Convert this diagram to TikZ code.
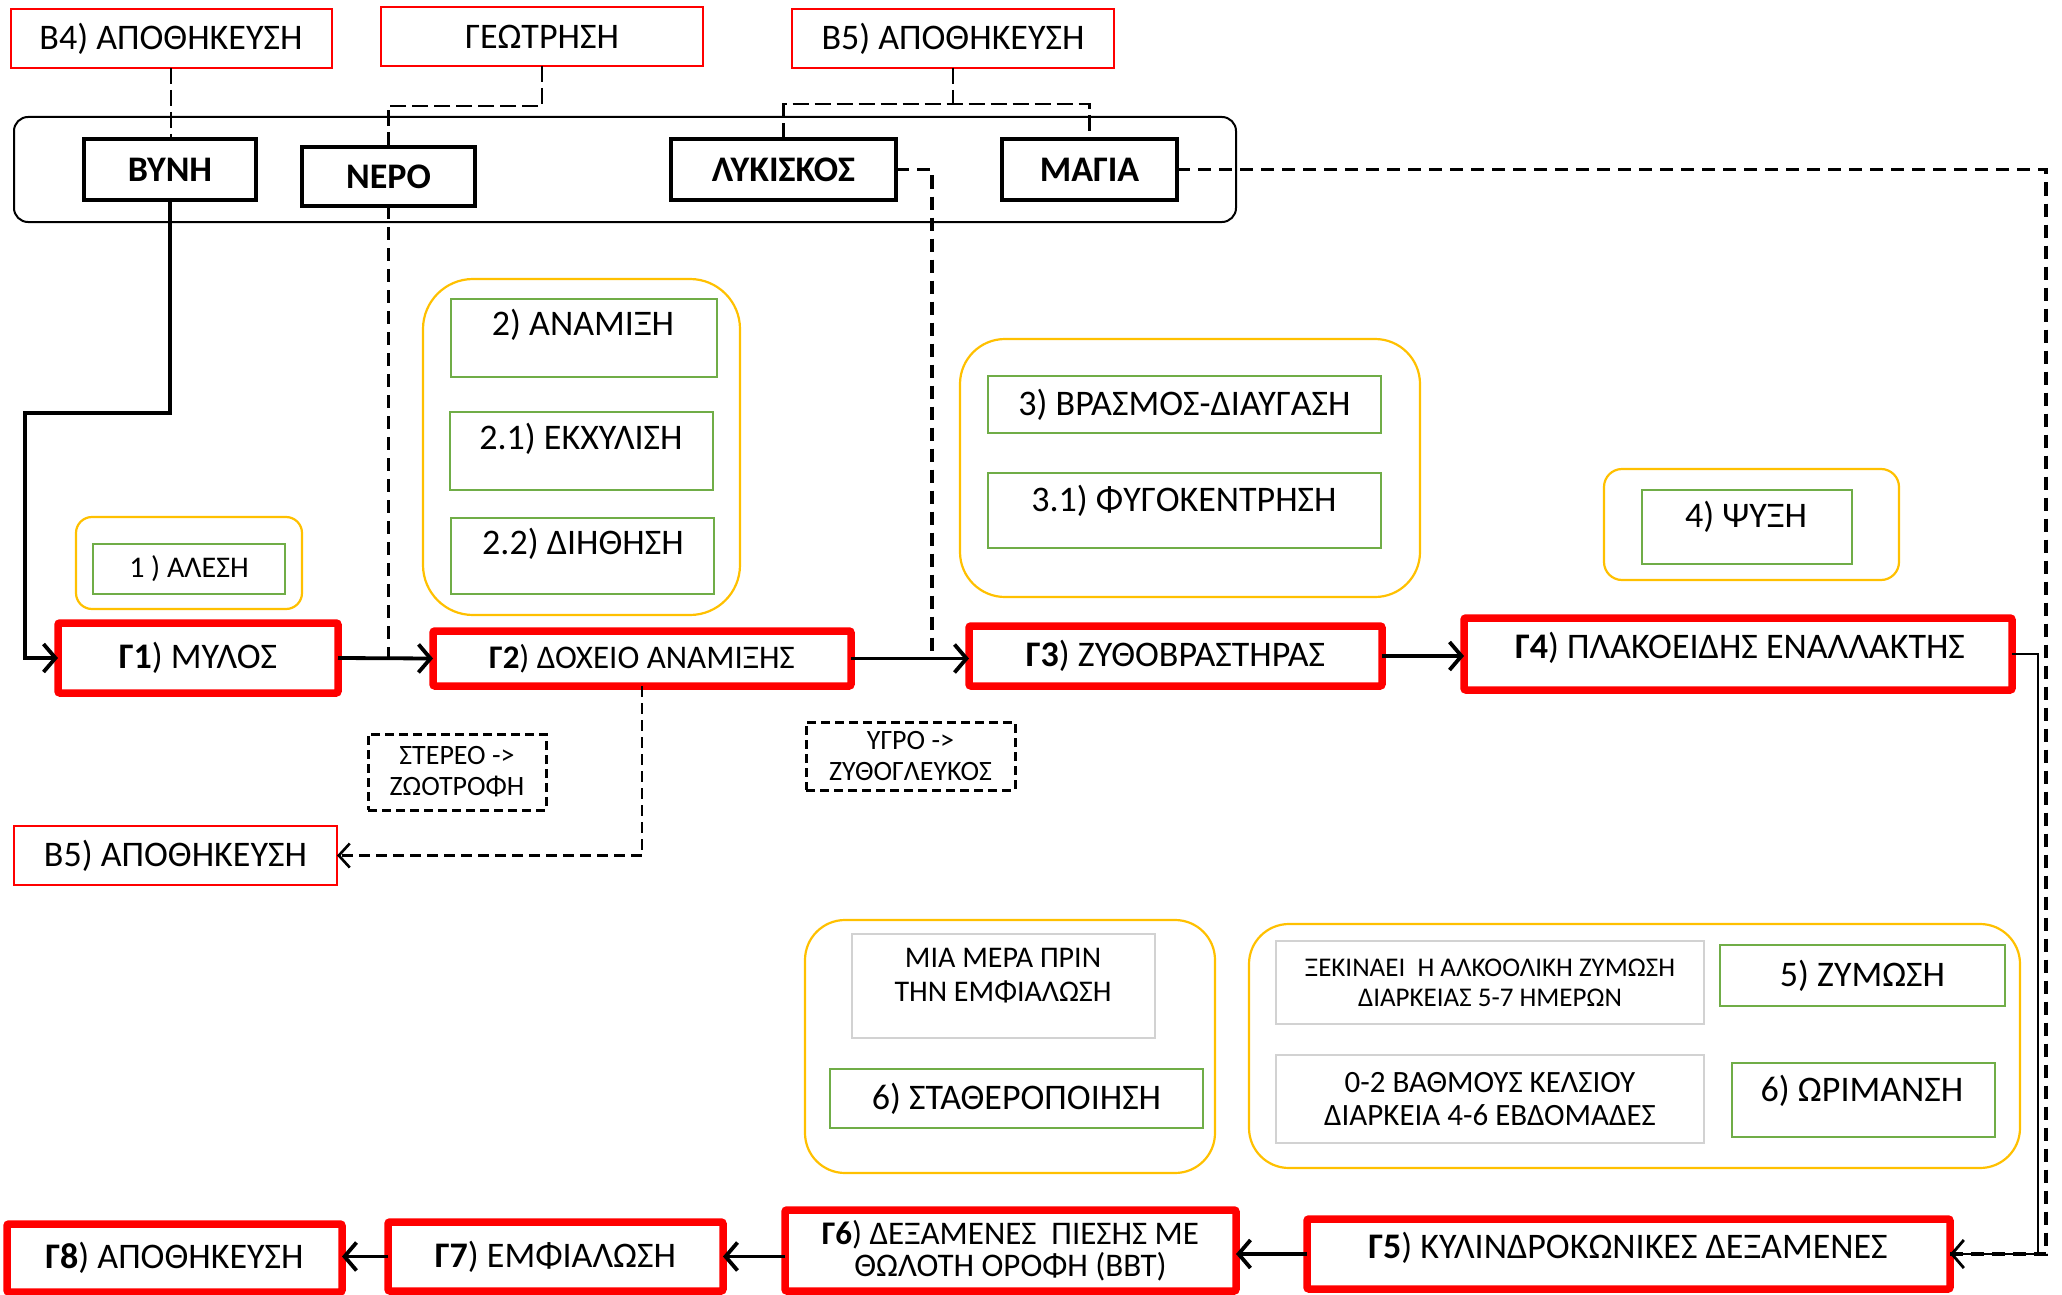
\documentclass[tikz,border=0pt]{standalone}
\usepackage{fontspec}
\setmainfont{Carlito}
\usetikzlibrary{arrows.meta}
\definecolor{myred}{RGB}{255,0,0}
\definecolor{mygreen}{RGB}{112,173,71}
\definecolor{myorange}{RGB}{255,192,0}
\definecolor{mygray}{RGB}{210,210,210}
\begin{document}
\begin{tikzpicture}[x=1pt,y=-1pt,
  every node/.style={inner sep=0pt,outer sep=0pt},
  fs/.style={font=\fontsize{#1}{#1}\selectfont},
  redthin/.style={draw=myred,line width=2pt,fs=36},
  blackbox/.style={draw=black,line width=4.5pt,font=\bfseries\fontsize{36}{40}\selectfont},
  redbox/.style={draw=myred,line width=7.5pt,rounded corners=2pt,fs=36},
  greenbox/.style={draw=mygreen,line width=2.5pt,fs=36},
  graybox/.style={draw=mygray,line width=2.5pt},
  grp/.style={draw=myorange,line width=2.2pt},
  notebox/.style={draw=black,line width=3pt,dash pattern=on 9pt off 5pt,align=center,font=\fontsize{28}{31}\selectfont},
  txt/.style={fs=36},
  flow/.style={draw=black,line width=3.8pt,-{Straight Barb[length=12pt,width=28pt]}},
  dashthick/.style={draw=black,line width=3.8pt,dash pattern=on 13pt off 8pt},
  dashthin/.style={draw=black,line width=2.6pt,dash pattern=on 11pt off 6pt},
  topdash/.style={draw=black,line width=2.6pt,dash pattern=on 16pt off 6pt}
]
\useasboundingbox (0,0) rectangle (2062,1295);
% ---------- top row ----------
\node[redthin,minimum width=321pt,minimum height=59pt] (b4) at (171,38.5) {Β4) ΑΠΟΘΗΚΕΥΣΗ};
\node[redthin,minimum width=322pt,minimum height=59pt] (geo) at (542,36.5) {ΓΕΩΤΡΗΣΗ};
\node[redthin,minimum width=322pt,minimum height=59pt] (b5t) at (953,38.5) {Β5) ΑΠΟΘΗΚΕΥΣΗ};
\node[draw=black,line width=2pt,rounded corners=14pt,minimum width=1222pt,minimum height=105pt] (big) at (625,169.5) {};
\node[blackbox,minimum width=172pt,minimum height=61pt] (bynh) at (170,169.5) {ΒΥΝΗ};
\node[blackbox,minimum width=173pt,minimum height=59pt] (nero) at (388.5,176.5) {ΝΕΡΟ};
\node[blackbox,minimum width=225pt,minimum height=61pt] (lyk) at (783.5,169.5) {ΛΥΚΙΣΚΟΣ};
\node[blackbox,minimum width=175pt,minimum height=61pt] (mag) at (1089.5,169.5) {ΜΑΓΙΑ};
% ---------- process groups ----------
\node[grp,rounded corners=16pt,minimum width=226pt,minimum height=92pt] (grp1) at (189,563) {};
\node[greenbox,minimum width=192pt,minimum height=50pt,fs=30] (gr1) at (189,569) {1 ) ΑΛΕΣΗ};
\node[grp,rounded corners=50pt,minimum width=317pt,minimum height=336pt] (grp2) at (581.5,447) {};
\node[greenbox,minimum width=266pt,minimum height=78pt] (gr2a) at (584,338) {};
\node[txt] (t2a) at (583,325) {2) ΑΝΑΜΙΞΗ};
\node[greenbox,minimum width=263pt,minimum height=78pt] (gr2b) at (581.5,451) {};
\node[txt] (t2b) at (581,439) {2.1) ΕΚΧΥΛΙΣΗ};
\node[greenbox,minimum width=263pt,minimum height=76pt] (gr2c) at (582.5,556) {};
\node[txt] (t2c) at (583,544) {2.2) ΔΙΗΘΗΣΗ};
\node[grp,rounded corners=45pt,minimum width=460pt,minimum height=258pt] (grp3) at (1190,468) {};
\node[greenbox,minimum width=393pt,minimum height=57pt] (gr3a) at (1184.5,404.5) {3) ΒΡΑΣΜΟΣ-ΔΙΑΥΓΑΣΗ};
\node[greenbox,minimum width=393pt,minimum height=75pt] (gr3b) at (1184.5,510.5) {};
\node[txt] (t3b) at (1184,501) {3.1) ΦΥΓΟΚΕΝΤΡΗΣΗ};
\node[grp,rounded corners=18pt,minimum width=295pt,minimum height=111pt] (grp4) at (1751.5,524.5) {};
\node[greenbox,minimum width=210pt,minimum height=74pt] (gr4) at (1747,527) {};
\node[txt] (t4) at (1746,517) {4) ΨΥΞΗ};
% ---------- main equipment row ----------
\node[redbox,minimum width=280pt,minimum height=70pt] (g1) at (198,658) {\textbf{Γ1}) ΜΥΛΟΣ};
\node[redbox,minimum width=418pt,minimum height=55pt,fs=33] (g2) at (642,658.5) {\textbf{Γ2}) ΔΟΧΕΙΟ ΑΝΑΜΙΞΗΣ};
\node[redbox,minimum width=413pt,minimum height=60pt] (g3) at (1175.5,656) {\textbf{Γ3}) ΖΥΘΟΒΡΑΣΤΗΡΑΣ};
\node[redbox,minimum width=548pt,minimum height=72pt] (g4) at (1738,654) {};
\node[txt] (t4g) at (1740,648) {\textbf{Γ4}) ΠΛΑΚΟΕΙΔΗΣ ΕΝΑΛΛΑΚΤΗΣ};
% ---------- notes ----------
\node[notebox,minimum width=178pt,minimum height=76pt] (note1) at (457,772) {ΣΤΕΡΕΟ -\kern0pt>\\ΖΩΟΤΡΟΦΗ};
\node[notebox,minimum width=209pt,minimum height=68pt] (note2) at (910.5,756) {ΥΓΡΟ -\kern0pt>\\ΖΥΘΟΓΛΕΥΚΟΣ};
\node[redthin,minimum width=323pt,minimum height=59pt] (b5l) at (175.5,855.5) {Β5) ΑΠΟΘΗΚΕΥΣΗ};
% ---------- lower groups ----------
\node[grp,rounded corners=40pt,minimum width=410pt,minimum height=253pt] (grp6) at (1010,1046.5) {};
\node[graybox,minimum width=303pt,minimum height=104pt] (gray6) at (1003.5,986) {};
\node[align=center,font=\fontsize{30}{34}\selectfont] (tg6) at (1003,976) {ΜΙΑ ΜΕΡΑ ΠΡΙΝ\\ΤΗΝ ΕΜΦΙΑΛΩΣΗ};
\node[greenbox,minimum width=373pt,minimum height=59pt] (gr6) at (1016.5,1098.5) {6) ΣΤΑΘΕΡΟΠΟΙΗΣΗ};
\node[grp,rounded corners=40pt,minimum width=771pt,minimum height=244pt] (grp5) at (1634.5,1046) {};
\node[graybox,minimum width=428pt,minimum height=83pt,align=center,font=\fontsize{27}{30}\selectfont] (gray5a) at (1490,982.5) {ΞΕΚΙΝΑΕΙ \ Η ΑΛΚΟΟΛΙΚΗ ΖΥΜΩΣΗ\\ΔΙΑΡΚΕΙΑΣ 5-7 ΗΜΕΡΩΝ};
\node[graybox,minimum width=428pt,minimum height=88pt,align=center,font=\fontsize{31}{33}\selectfont] (gray5b) at (1490,1099) {0-2 ΒΑΘΜΟΥΣ ΚΕΛΣΙΟΥ\\ΔΙΑΡΚΕΙΑ 4-6 ΕΒΔΟΜΑΔΕΣ};
\node[greenbox,minimum width=285pt,minimum height=61pt] (gr5) at (1862.5,975.5) {5) ΖΥΜΩΣΗ};
\node[greenbox,minimum width=263pt,minimum height=74pt] (gr6b) at (1863.5,1100) {};
\node[txt] (t6b) at (1862,1091) {6) ΩΡΙΜΑΝΣΗ};
% ---------- bottom row ----------
\node[redbox,minimum width=643pt,minimum height=70pt] (g5) at (1628.5,1254) {};
\node[txt] (t5g) at (1628,1248) {\textbf{Γ5}) ΚΥΛΙΝΔΡΟΚΩΝΙΚΕΣ ΔΕΞΑΜΕΝΕΣ};
\node[redbox,minimum width=451pt,minimum height=81pt,align=center,font=\fontsize{33}{32}\selectfont] (g6) at (1010.5,1250.5) {\textbf{Γ6}) ΔΕΞΑΜΕΝΕΣ \ ΠΙΕΣΗΣ ΜΕ\\ΘΩΛΟΤΗ ΟΡΟΦΗ (BBT)};
\node[redbox,minimum width=335pt,minimum height=69pt] (g7) at (555.5,1256.5) {\textbf{Γ7}) ΕΜΦΙΑΛΩΣΗ};
\node[redbox,minimum width=335pt,minimum height=68pt] (g8) at (174.5,1258) {\textbf{Γ8}) ΑΠΟΘΗΚΕΥΣΗ};
% ---------- helper coordinates ----------
\coordinate (geoj) at (542,106);
\coordinate (b5j) at (953,104);
\coordinate (bynhj) at (25,413);
\coordinate (lykc) at (932,656);
\coordinate (g4j) at (2038,654);
\coordinate (magj) at (2046,169.5);
% ---------- connectors ----------
\draw[topdash] (b4.south) -- (b4.south |- bynh.north);
\draw[topdash] (geo.south) -- (geoj) -| (nero.north);
\draw[topdash] (b5t.south) -- (b5j);
\draw[topdash] (lyk.north) |- (b5j) -| (mag.north);
\draw[dashthick] (nero.south) |- (g2.west);
\draw[dashthick] (lyk.east) -| (lykc);
\draw[dashthick] (mag.east) -- (magj) |- (g5.east);
\draw[flow] (bynh.south) |- (bynhj) |- (g1.west);
\draw[flow] (g1.east) -- (g2.west);
\draw[flow] (g2.east) -- (g2.east -| g3.west);
\draw[flow] (g3.east) -- (g3.east -| g4.west);
\draw[flow,line width=2.8pt] (g4.east) -- (g4j) |- (g5.east);
\draw[flow] (g5.west) -- (g5.west -| g6.east);
\draw[flow] (g6.west |- g7.east) -- (g7.east);
\draw[flow] (g7.west) -- (g7.west -| g8.east);
\draw[dashthin,-{Straight Barb[length=11pt,width=24pt]}] (g2.south) |- (b5l.east);
\end{tikzpicture}
\end{document}
